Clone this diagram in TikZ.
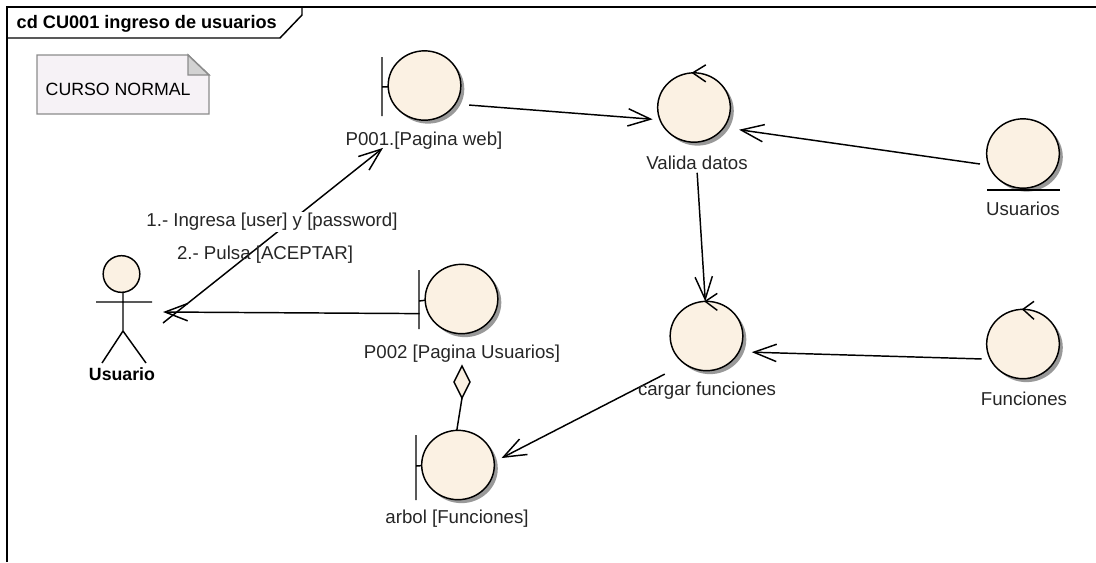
\documentclass[tikz,border=0pt]{standalone}
\usepackage{fontspec}
\setmainfont{Liberation Sans}
\usetikzlibrary{arrows.meta,shapes.geometric,shadows}
\definecolor{crema}{HTML}{FBF1E3}
\definecolor{notafondo}{HTML}{F6F2F6}
\definecolor{notaborde}{HTML}{8C8C8C}
\definecolor{notapliegue}{HTML}{D2D2D2}
\begin{document}
\begin{tikzpicture}[x=0.75pt,y=-0.75pt,>={Straight Barb[length=17pt,width=13pt]},
        line width=1.1pt,font=\fontsize{13.3}{15}\selectfont,
        elem/.style={ellipse,draw,fill=crema,minimum width=54.5pt,minimum height=52pt,
          inner sep=0pt,outer sep=0pt,
          drop shadow={shadow xshift=2.6pt,shadow yshift=-2.6pt,fill=black!40,opacity=1}},
        rotulo/.style={inner sep=1pt,text=black!85,font=\fontsize{14}{16}\selectfont},
        msg/.style={draw,->}]
      \useasboundingbox (0,0) rectangle (1096,562);
      % marco
      \draw (7,562) -- (7,7) -- (1096,7);
      \draw (7,38) -- (280,38) -- (302,15) -- (302,7);
      \node[anchor=west,inner sep=0pt,font=\fontsize{13.6}{15}\selectfont] (titulo) at (16,24) {\textbf{cd CU001 ingreso de usuarios}};
      % nota
      \draw[notaborde,fill=notafondo] (37,55) -- (188,55) -- (209,75) -- (209,114) -- (37,114) -- cycle;
      \draw[notaborde,fill=notapliegue] (188,55) -- (209,75) -- (188,75) -- cycle;
      \node[anchor=west,inner sep=0pt] (nota) at (45,89) {CURSO NORMAL};
      % elementos
      \node[elem] (p001) at (424.5,85.5) {};
      \node[elem] (valida) at (694,107.5) {};
      \node[elem] (usuarios) at (1023,153.5) {};
      \node[elem] (p002) at (461.5,299) {};
      \node[elem] (cargar) at (706.5,336) {};
      \node[elem] (funciones) at (1023,344) {};
      \node[elem] (arbol) at (458,465) {};
      \node[diamond,draw,fill=crema,minimum width=12pt,minimum height=24pt,inner sep=0pt,
        outer sep=0pt] (rombo) at (462,382) {};
      % barras de frontera
      \draw (382,57) -- (382,116) (382,87) -- (p001.182);
      \draw (419,270) -- (419,329) (419,301) -- (p002.182);
      \draw (416,435) -- (416,500) (416,466) -- (arbol.181);
      \draw (987,190) -- (1060,190);
      % marcas de control
      \draw (valida.92) ++(13,-8) -- ++(-13,8) -- ++(13,9);
      \draw (cargar.92) ++(12,-8) -- ++(-12,8) -- ++(12,9);
      \draw (funciones.90) ++(11,-8) -- ++(-11,8) -- ++(11,10);
      % actor
      \node[circle,draw,fill=crema,minimum size=27.5pt,inner sep=0pt,outer sep=0pt] (cabeza) at (121.5,274) {};
      \coordinate (cuello) at (123,292);
      \coordinate (cadera) at (123,331);
      \coordinate (usuariotip) at (163,312);
      \coordinate (usuariosal) at (163,323);
      \draw (cuello) -- (cadera) -- (102,363) (cadera) -- (146,363) (96,302) -- (152,302);
      % conectores
      \path (usuariosal) edge[msg,shorten >=34pt] (p001.260)
      (p002.204) edge[msg,shorten <=6.7pt] (usuariotip)
      (p001.-31) edge[msg,shorten <=10.5pt,shorten >=5.6pt] (valida.200)
      (usuarios.199) edge[msg,shorten <=6.7pt,shorten >=11.7pt] (valida.-34)
      (valida.-88) edge[msg,shorten <=23pt] (cargar.92)
      (funciones.205) edge[msg,shorten <=6.5pt,shorten >=9.7pt] (cargar.-26)
      (cargar.232) edge[msg,shorten <=16.9pt,shorten >=6.2pt] (arbol.5);
      \draw (rombo.south) -- (arbol.92);
      % rotulos
      \node[rotulo] (lp001) at (424,141) {P001.[Pagina web]};
      \node[rotulo] (lvalida) at (697,163) {Valida datos};
      \node[rotulo] (lusuarios) at (1023,209) {Usuarios};
      \node[rotulo] (lp002) at (462,354) {P002 [Pagina Usuarios]};
      \node[rotulo] (lcargar) at (707,391) {cargar funciones};
      \node[rotulo] (lfunciones) at (1024,399) {Funciones};
      \node[rotulo] (larbol) at (457,519) {arbol [Funciones]};
      \node[rotulo,fill=white] (lingresa) at (272,222) {1.- Ingresa [user] y [password]};
      \node[rotulo] (lpulsa) at (265,255) {2.- Pulsa [ACEPTAR]};
      \node[inner sep=1pt] (lusuario) at (122,374) {\textbf{Usuario}};
    \end{tikzpicture}
\end{document}
